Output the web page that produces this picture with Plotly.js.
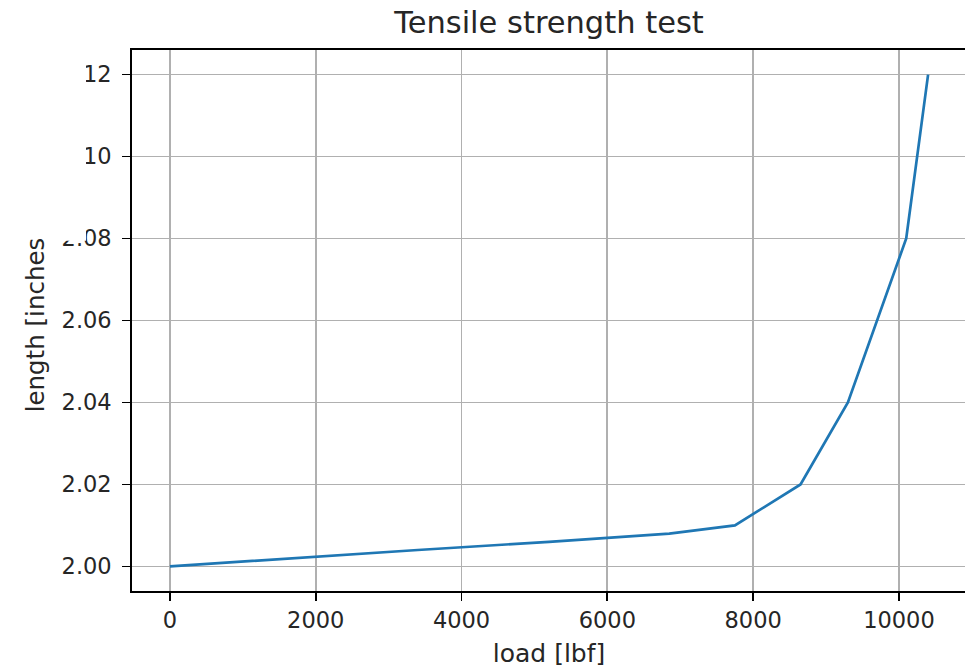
<!DOCTYPE html>
<html>
<head>
<meta charset="utf-8">
<script src="https://cdn.plot.ly/plotly-3.0.1.min.js"></script>
<style>
html, body { margin: 0; padding: 0; background: #ffffff; overflow: hidden; }
#chart { width: 968px; height: 672px; }
</style>
</head>
<body>
<div id="chart"></div>
<script>
// Data
const loadLbf = [0, 1650, 3400, 5200, 6850, 7750, 8650, 9300, 10100, 10400];
const lengthIn = [2.000, 2.002, 2.004, 2.006, 2.008, 2.010, 2.020, 2.040, 2.080, 2.120];
const xTickVals = [0, 2000, 4000, 6000, 8000, 10000];
const xTickText = ["0", "2000", "4000", "6000", "8000", "10000"];
const yTickVals = [2.00, 2.02, 2.04, 2.06, 2.08, 2.10, 2.12];
const yTickText = ["2.00", "2.02", "2.04", "2.06", "2.08", "2.10", "2.12"];

const FONT = "DejaVu Sans, Liberation Sans, sans-serif";
const TXT = "#262626";

const trace = {
  x: loadLbf,
  y: lengthIn,
  type: "scatter",
  mode: "lines",
  line: { color: "#1f77b4", width: 2.7 },
  hoverinfo: "skip"
};

const axisCommon = {
  showgrid: true,
  gridcolor: "#b0b0b0",
  gridwidth: 1.8,
  zeroline: false,
  showline: true,
  linecolor: "#000000",
  linewidth: 1.8,
  mirror: true,
  ticks: "outside",
  ticklen: 8,
  tickwidth: 1.8,
  tickcolor: "#000000",
  tickfont: { family: FONT, size: 22.5, color: TXT },
  tickmode: "array"
};

const layout = {
  width: 968,
  height: 672,
  margin: { l: 132, r: 2, t: 50, b: 81, pad: 0 },
  paper_bgcolor: "#ffffff",
  plot_bgcolor: "#ffffff",
  showlegend: false,
  title: {
    text: "Tensile strength test",
    font: { family: FONT, size: 30.5, color: TXT },
    x: 0.5, xref: "paper", xanchor: "center",
    y: 1, yref: "container", yanchor: "top", pad: { t: 12 }
  },
  xaxis: Object.assign({}, axisCommon, {
    range: [-520, 10920],
    tickvals: xTickVals,
    ticktext: xTickText,
    title: { text: "load [lbf]", font: { family: FONT, size: 25, color: TXT }, standoff: 13 }
  }),
  yaxis: Object.assign({}, axisCommon, {
    range: [1.994, 2.126],
    tickvals: yTickVals,
    ticktext: yTickText,
    ticklabelstandoff: 6
  }),
  shapes: [{
    type: "rect", xref: "paper", yref: "paper", layer: "above",
    x0: -0.2, x1: (86 - 132) / 834, y0: (591 - 241) / 540.5, y1: 1.2,
    fillcolor: "#ffffff", line: { width: 0 }
  }],
  annotations: [{
    text: "length [inches",
    textangle: -90,
    xref: "paper", yref: "paper",
    x: (35 - 132) / 834, xanchor: "center",
    y: (591 - 415) / 540.5, yanchor: "bottom",
    showarrow: false,
    font: { family: FONT, size: 24.5, color: TXT }
  }]
};

Plotly.newPlot("chart", [trace], layout, { staticPlot: true, displayModeBar: false });
</script>
</body>
</html>
